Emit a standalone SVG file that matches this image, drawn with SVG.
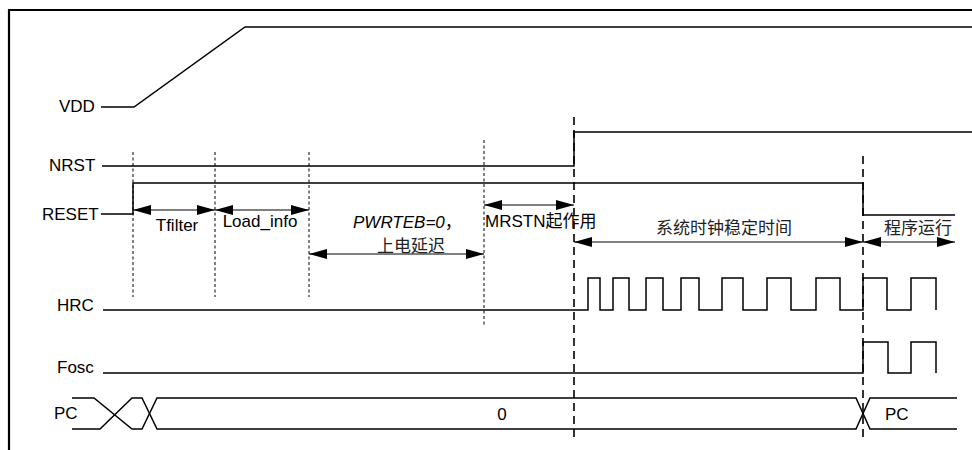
<svg xmlns="http://www.w3.org/2000/svg" width="972" height="450" viewBox="0 0 972 450">
<style>
.sig{fill:none;stroke:#000;stroke-width:1.5;stroke-linejoin:miter}
.t{font-family:"Liberation Sans","Noto Sans CJK SC",sans-serif;font-size:17px;fill:#000}
.cj{font-family:"Noto Sans CJK SC","Liberation Sans",sans-serif;font-size:17px;fill:#222}
.thin{stroke:#000;stroke-width:1;stroke-dasharray:3 2.5;fill:none}
.thick{stroke:#000;stroke-width:1.6;stroke-dasharray:8 5;fill:none}
.arr{stroke:#000;stroke-width:1.2;fill:none;marker-start:url(#ah);marker-end:url(#ah)}
</style>
<defs>
<marker id="ah" viewBox="0 0 18 10" refX="18" refY="5" markerWidth="18" markerHeight="10" markerUnits="userSpaceOnUse" orient="auto-start-reverse">
<path d="M0,0 L18,5 L0,10 z" fill="#000"/>
</marker>
</defs>
<rect width="972" height="450" fill="#fff"/>
<g id="frame"><path d="M9,450 V10 H972" fill="none" stroke="#000" stroke-width="2.2"/></g>
<g id="VDD">
<text class="t" x="59" y="112">VDD</text>
<path class="sig" d="M101,107 H134 L245,27 H972"/>
</g>
<g id="NRST">
<text class="t" x="49" y="171">NRST</text>
<path class="sig" d="M102,166 H574 V132 H972"/>
</g>
<g id="RESET">
<text class="t" x="42" y="220">RESET</text>
<path class="sig" d="M101,214 H133 V183 H863 V215 H955"/>
</g>
<g id="HRC">
<text class="t" x="57" y="311">HRC</text>
<path class="sig" d="M103,310 H588 V278 H600 V310 H613 V278 H629 V310 H646 V278 H663 V310 H681 V278 H699 V310 H722 V278 H743 V310 H767 V278 H791 V310 H816 V278 H840 V310 H863 V278 H887 V310 H911 V278 H936 V310"/>
</g>
<g id="Fosc">
<text class="t" x="57" y="373">Fosc</text>
<path class="sig" d="M103,373 H863 V342 H888 V373 H911 V342 H936 V373"/>
</g>
<g id="PC">
<text class="t" x="54" y="419">PC</text>
<path class="sig" d="M72,398 H94 L132,429 H142 L157,398 H856 L870,429 H957"/>
<path class="sig" d="M72,429 H100 L132,398 H142 L157,429 H856 L870,398 H957"/>
<text class="t" x="502" y="420" text-anchor="middle">0</text>
<text class="t" x="885" y="420">PC</text>
</g>
<g id="guides">
<line class="thin" x1="133" y1="152" x2="133" y2="297"/>
<line class="thin" x1="215" y1="152" x2="215" y2="297"/>
<line class="thin" x1="309" y1="152" x2="309" y2="297"/>
<line class="thin" x1="484" y1="140" x2="484" y2="326"/>
<line class="thick" x1="574" y1="117" x2="574" y2="438"/>
<line class="thick" x1="863" y1="156" x2="863" y2="440"/>
</g>
<g id="connectors">
<line class="arr" x1="133" y1="210" x2="215" y2="210"/>
<line class="arr" x1="215" y1="210" x2="309" y2="210"/>
<line class="arr" x1="309" y1="254" x2="484" y2="254"/>
<line class="arr" x1="484" y1="205" x2="574" y2="205"/>
<line class="arr" x1="574" y1="242" x2="863" y2="242"/>
<line class="arr" x1="863" y1="242" x2="955" y2="242"/>
</g>
<g id="labels">
<text class="t" x="177" y="231" text-anchor="middle">Tfilter</text>
<text class="t" x="260" y="227" text-anchor="middle">Load_info</text>
<text class="t" x="353" y="228" font-style="italic">PWRTEB=0<tspan font-style="normal" font-family="Noto Sans CJK SC">，</tspan></text>
<text class="cj" x="411" y="252" text-anchor="middle">上电延迟</text>
<text class="t" x="485" y="227">MRSTN<tspan font-family="Noto Sans CJK SC">起作用</tspan></text>
<text class="cj" x="724" y="234" text-anchor="middle">系统时钟稳定时间</text>
<text class="cj" x="918" y="234" text-anchor="middle">程序运行</text>
</g>
</svg>
